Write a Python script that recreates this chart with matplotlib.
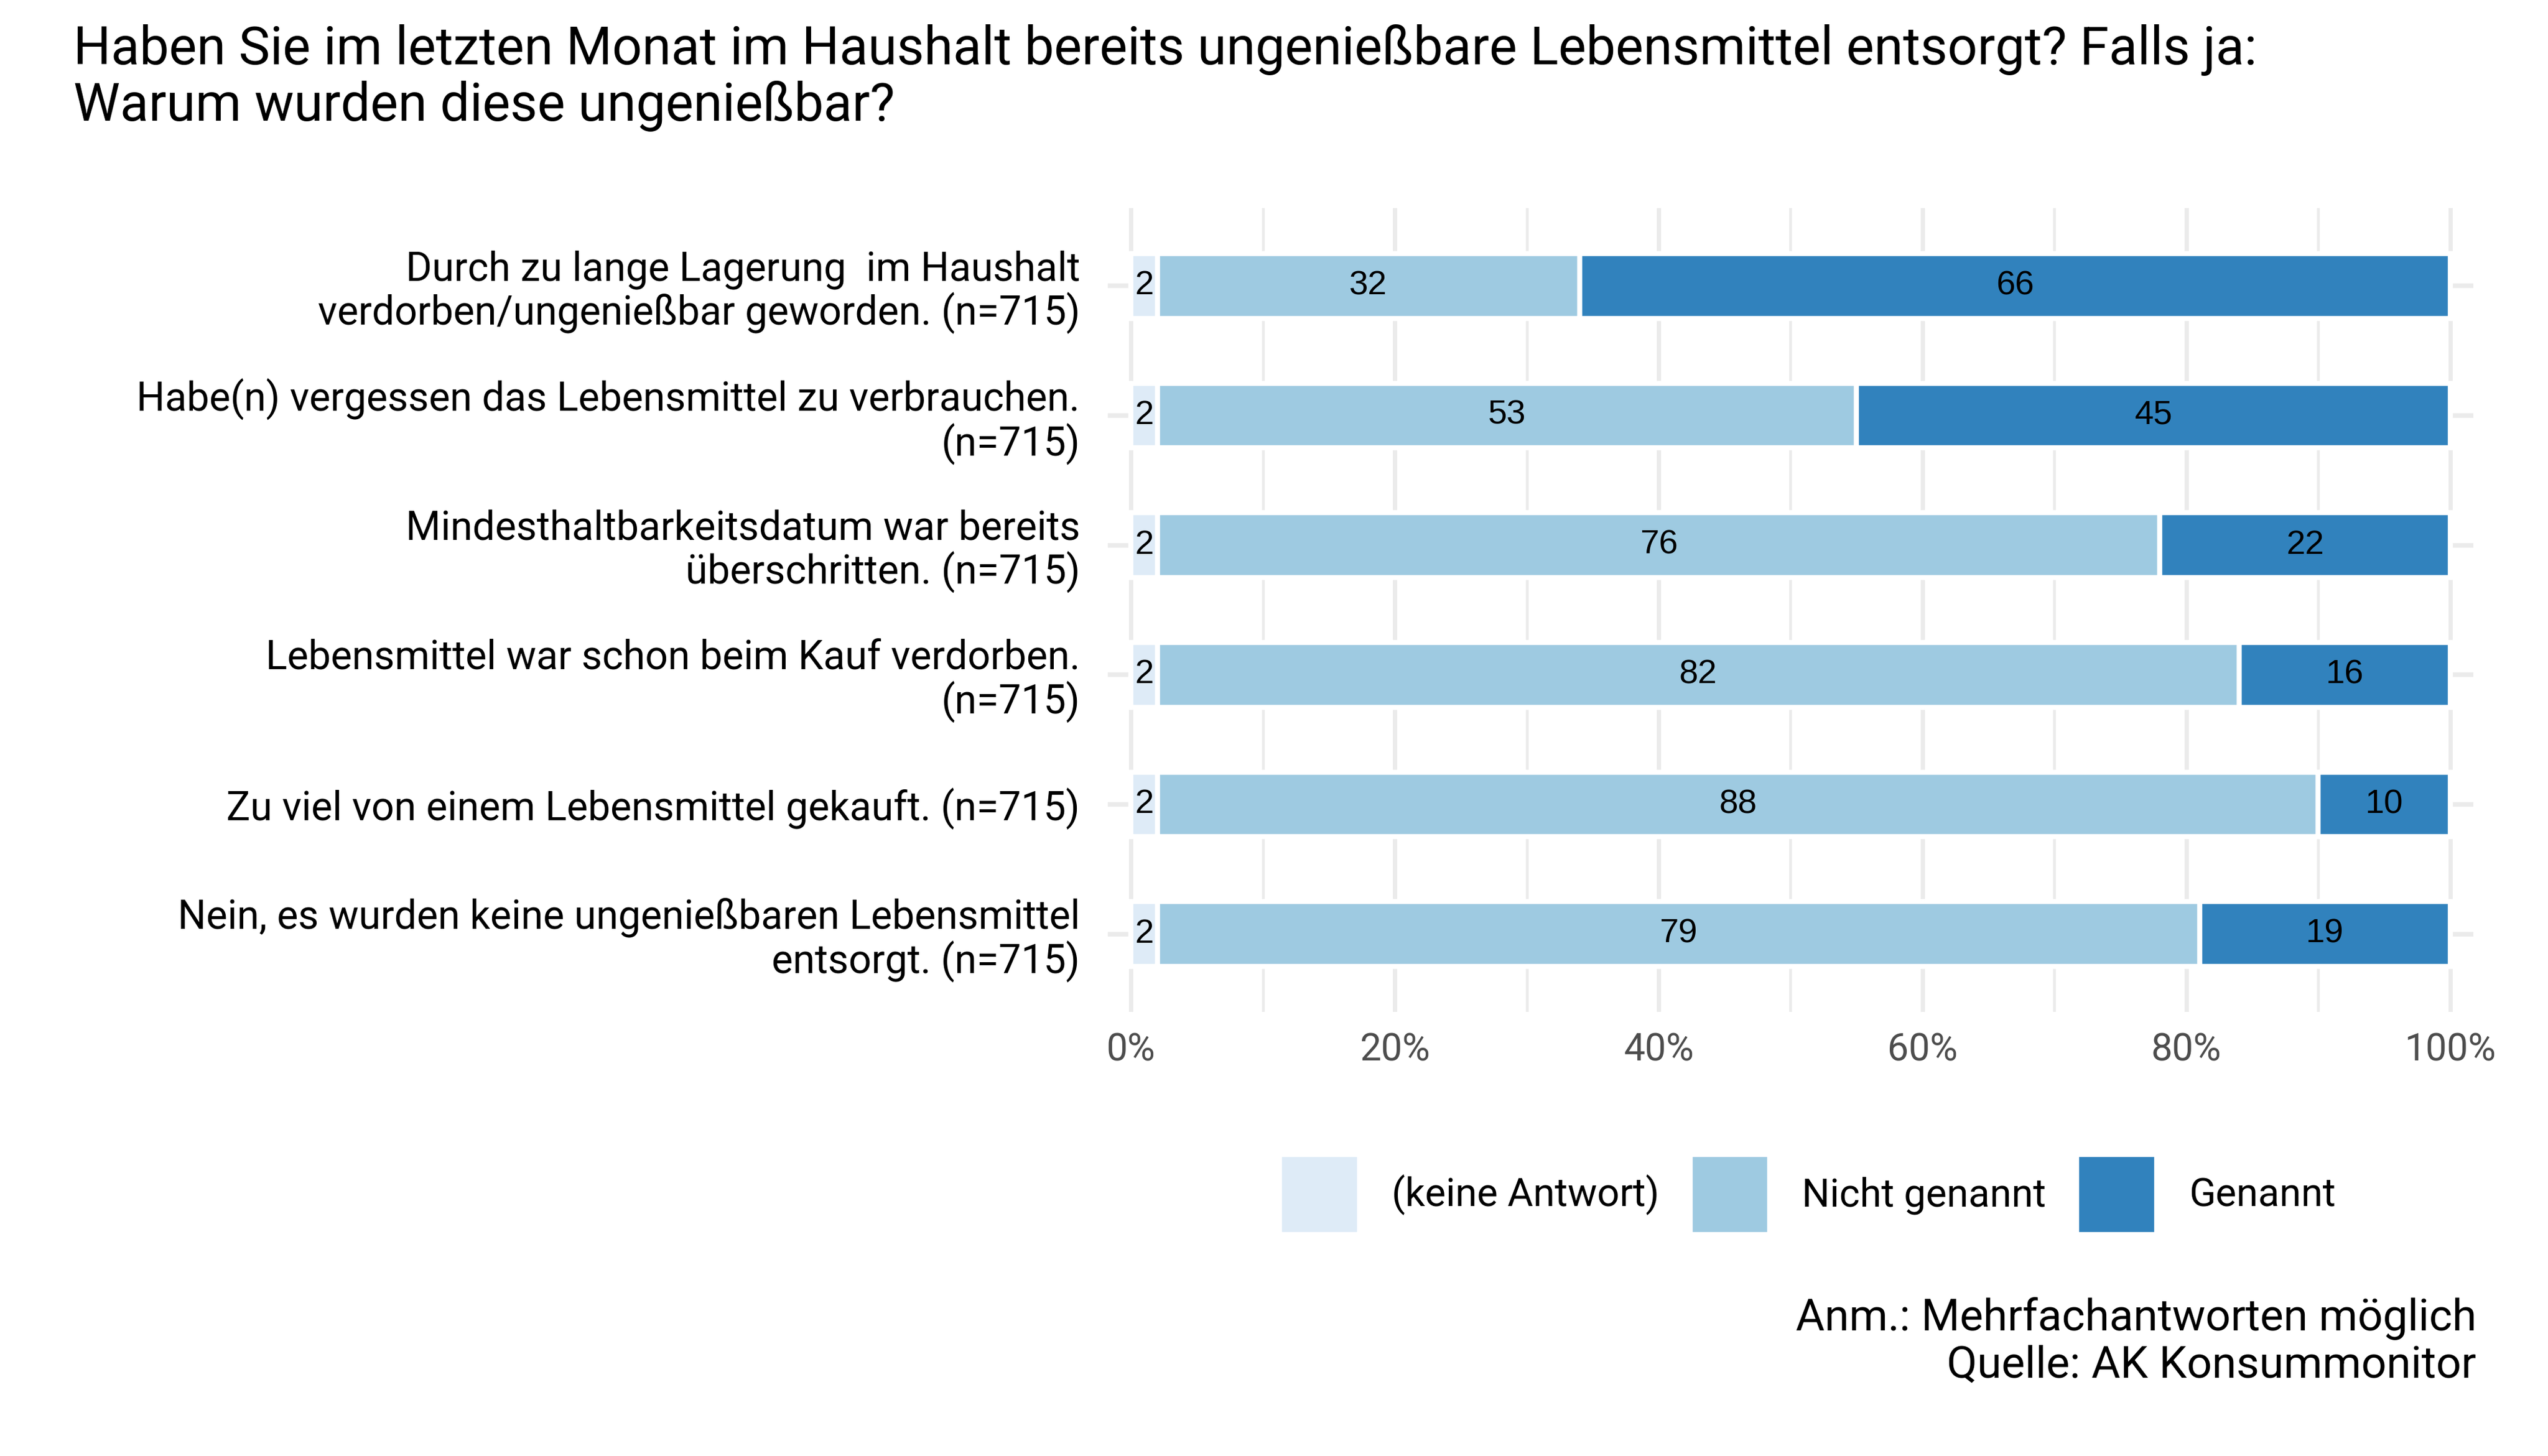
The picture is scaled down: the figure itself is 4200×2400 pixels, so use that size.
import matplotlib
matplotlib.use("Agg")
import matplotlib.pyplot as plt
import matplotlib.transforms as mtransforms
from matplotlib.ticker import MultipleLocator, FuncFormatter
import numpy as np

plt.rcParams['font.family'] = ['Roboto', 'DejaVu Sans']

# data
categories = [
    "Durch zu lange Lagerung  im Haushalt\nverdorben/ungenießbar geworden. (n=715)",
    "Habe(n) vergessen das Lebensmittel zu verbrauchen.\n(n=715)",
    "Mindesthaltbarkeitsdatum war bereits\nüberschritten. (n=715)",
    "Lebensmittel war schon beim Kauf verdorben.\n(n=715)",
    "Zu viel von einem Lebensmittel gekauft. (n=715)",
    "Nein, es wurden keine ungenießbaren Lebensmittel\nentsorgt. (n=715)",
]
keine_antwort = [2, 2, 2, 2, 2, 2]
nicht_genannt = [32, 53, 76, 82, 88, 79]
genannt = [66, 45, 22, 16, 10, 19]

series_names = ["(keine Antwort)", "Nicht genannt", "Genannt"]
colors = ["#DEEBF7", "#9ECAE1", "#3182BD"]

title_lines = ["Haben Sie im letzten Monat im Haushalt bereits ungenießbare Lebensmittel entsorgt? Falls ja:",
               "Warum wurden diese ungenießbar?"]
caption = "Anm.: Mehrfachantworten möglich\nQuelle: AK Konsummonitor"

W, H = 4200, 2400
fig = plt.figure(figsize=(14, 8), dpi=300)
ax = fig.add_axes([1826 / W, 1 - 1668 / H, (4077 - 1826) / W, (1668 - 343) / H])

y = np.arange(len(categories))
left = np.zeros(len(categories))
handles = []
for name, vals, col in zip(series_names, [keine_antwort, nicht_genannt, genannt], colors):
    vals = np.array(vals, dtype=float)
    b = ax.barh(y, vals, left=left, height=0.5, color=col, edgecolor="white",
                linewidth=2, label=name, zorder=3)
    handles.append(b)
    for yi, l, v in zip(y, left, vals):
        ax.text(l + v / 2, yi, f"{v:.0f}", ha="center", va="center",
                fontsize=13.5, family="Liberation Sans", color="black", zorder=4)
    left += vals

ax.set_xlim(-1.75, 101.75)
ax.set_ylim(len(categories) - 0.4, -0.6)
ax.set_yticks(y)
ax.set_yticklabels(categories, fontsize=15.8, color="black", linespacing=1.1)
shift = mtransforms.ScaledTranslation(0, 2 / 72, fig.dpi_scale_trans)
for lab in ax.get_yticklabels():
    lab.set_transform(lab.get_transform() + shift)
ax.xaxis.set_major_locator(MultipleLocator(20))
ax.xaxis.set_minor_locator(MultipleLocator(10))
ax.xaxis.set_major_formatter(FuncFormatter(lambda v, p: f"{v:.0f}%"))
ax.tick_params(axis="x", which="both", length=0, labelsize=15, labelcolor="#4D4D4D", pad=8)
ax.tick_params(axis="y", length=0, pad=11)

ax.set_axisbelow(True)
ax.grid(axis="x", which="major", color="#EBEBEB", linewidth=1.7)
ax.grid(axis="x", which="minor", color="#EBEBEB", linewidth=1.1)
ax.grid(axis="y", which="major", color="#EBEBEB", linewidth=1.8)
for s in ax.spines.values():
    s.set_visible(False)

ax.legend(handles=handles, loc="center", bbox_to_anchor=(0.5125, -0.227), ncol=3,
          frameon=False, fontsize=15.5, handlelength=2.04, handleheight=2.77,
          handletextpad=0.82, columnspacing=0.78)

fig.text(121 / W, 1 - 106 / H, title_lines[0], fontsize=20.8, va="baseline", ha="left")
fig.text(121 / W, 1 - 199 / H, title_lines[1], fontsize=20.8, va="baseline", ha="left")
fig.text(4082 / W, 1 - 2212 / H, caption, fontsize=17.5, ha="right", va="center",
         linespacing=1.13)

fig.savefig("out.png", dpi=300)
